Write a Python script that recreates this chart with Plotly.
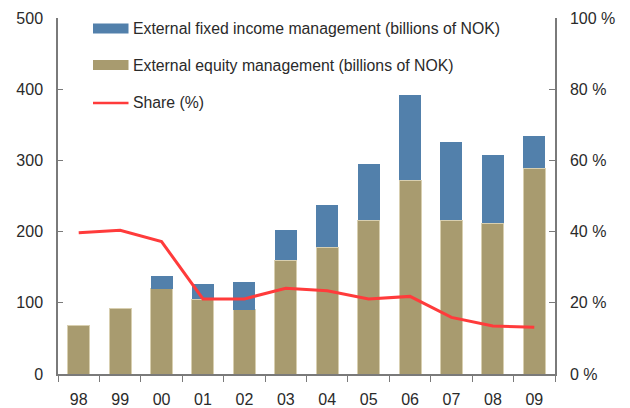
import plotly.graph_objects as go

years = ["98", "99", "00", "01", "02", "03", "04", "05", "06", "07", "08", "09"]
equity = [68, 92, 120, 105, 90, 160, 178, 216, 272, 216, 212, 289]
fixed_income = [0, 0, 18, 21, 39, 42, 59, 79, 120, 110, 96, 45]
share = [39.7, 40.4, 37.2, 21.1, 21.1, 24.1, 23.4, 21.1, 21.8, 15.9, 13.5, 13.1]

left_ticks = [0, 100, 200, 300, 400, 500]
right_ticks = [0, 20, 40, 60, 80, 100]
right_labels = [f"{v} %" for v in right_ticks]

BLUE = "#5280ab"
TAN = "#a89b6f"
RED = "#ff3b3b"
FONT = "Liberation Sans, Arial, sans-serif"
TXT = "#2a2a2a"
AX = "#7a7a7a"

# page body has an 8px margin; figure is sized so the plot area lands at
# x 58..555, y 18..374 of the window
L, T, PW, PH = 50, 10, 497, 356
W, H = 622, 400

fig = go.Figure()
fig.add_trace(go.Bar(x=years, y=equity, name="External equity management (billions of NOK)",
                     marker=dict(color=TAN, line=dict(color="#d8cfb0", width=1)),
                     showlegend=False))
fig.add_trace(go.Bar(x=years, y=fixed_income, name="External fixed income management (billions of NOK)",
                     marker=dict(color=BLUE, line=dict(width=0)),
                     showlegend=False))
fig.add_trace(go.Scatter(x=years, y=share, yaxis="y2", mode="lines", name="Share (%)",
                         line=dict(color=RED, width=3), showlegend=False))

def px2paper(x, y):
    return (x - 58) / PW, (374 - y) / PH

shapes = []
annotations = []
items = [
    ("rect", BLUE, 28.5, "External fixed income management (billions of NOK)"),
    ("rect", TAN, 65, "External equity management (billions of NOK)"),
    ("line", RED, 103, "Share (%)"),
]
for kind, col, yc, label in items:
    x0, y0 = px2paper(93, yc + 5)
    x1, y1 = px2paper(128.5, yc - 5)
    if kind == "rect":
        shapes.append(dict(type="rect", xref="paper", yref="paper", x0=x0, x1=x1, y0=y0, y1=y1,
                           fillcolor=col, line=dict(width=0)))
    else:
        _, ym = px2paper(0, yc)
        shapes.append(dict(type="line", xref="paper", yref="paper", x0=x0, x1=x1, y0=ym, y1=ym,
                           line=dict(color=col, width=2.5)))
    tx, ty = px2paper(131, yc)
    annotations.append(dict(xref="paper", yref="paper", x=tx, y=ty, text=label, showarrow=False,
                            xanchor="left", yanchor="middle", font=dict(family=FONT, size=15.8, color=TXT)))

fig.update_layout(
    width=W, height=H,
    margin=dict(l=L, r=W - L - PW, t=T, b=H - T - PH, autoexpand=False),
    paper_bgcolor="white", plot_bgcolor="white",
    barmode="stack", bargap=0.47,
    font=dict(family=FONT, size=16, color=TXT),
    shapes=shapes, annotations=annotations,
    xaxis=dict(type="category", showline=True, linecolor=AX, linewidth=1.5,
               ticks="outside", tickson="boundaries", ticklen=6, tickcolor=AX,
               showgrid=False, tickfont=dict(size=16), ticklabelstandoff=10),
    yaxis=dict(range=[0, 500], tickvals=left_ticks, showline=True, linecolor=AX, linewidth=1.5,
               ticks="inside", ticklen=5, tickcolor=AX, showgrid=False, zeroline=False,
               ticklabelstandoff=10, tickfont=dict(size=16)),
    yaxis2=dict(range=[0, 100], tickvals=right_ticks, ticktext=right_labels, overlaying="y", side="right",
                showline=True, linecolor=AX, linewidth=1.5, ticks="inside", ticklen=6,
                tickcolor=AX, showgrid=False, zeroline=False, ticklabelstandoff=10,
                tickfont=dict(size=16)),
)

fig.write_html("out.html")
